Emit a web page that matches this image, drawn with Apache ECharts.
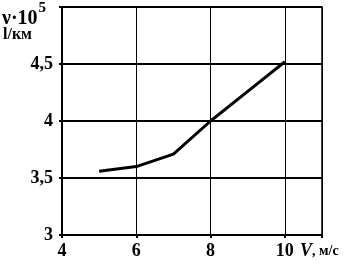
<!DOCTYPE html>
<html><head><meta charset="utf-8">
<script src="https://cdn.jsdelivr.net/npm/echarts@6/dist/echarts.min.js"></script>
<style>html,body{margin:0;padding:0;background:#fff}#c{width:344px;height:266px}</style>
</head><body><div id="c"></div>
<script>
const speedV = [5, 6, 7, 8, 9, 10];
const nuValues = [3.56, 3.60, 3.71, 4.00, 4.26, 4.52];
const xTicks = [4, 6, 8, 10];
const yTicks = [3, 3.5, 4, 4.5];

const chart = echarts.init(document.getElementById('c'), null, {renderer: 'canvas'});
const font = '"Liberation Serif", "DejaVu Serif", serif';
chart.setOption({
  animation: false,
  backgroundColor: '#fff',
  grid: {left: 62, right: 22, top: 7, bottom: 31, show: true, borderColor: '#000', borderWidth: 1.5},
  xAxis: {
    type: 'value', min: 4, max: 11, interval: 2,
    axisLine: {lineStyle: {color: '#000', width: 2}},
    axisTick: {show: true, length: 3, lineStyle: {color: '#000', width: 2}},
    splitLine: {show: true, lineStyle: {color: '#000', width: 1}},
    axisLabel: {color: '#000', fontFamily: font, fontSize: 18, fontWeight: 'bold', margin: 7,
      formatter: v => xTicks.includes(v) ? String(v) : ''}
  },
  yAxis: {
    type: 'value', min: 3, max: 5, interval: 0.5,
    axisLine: {show: true, lineStyle: {color: '#000', width: 2}},
    axisTick: {show: true, length: 3, lineStyle: {color: '#000', width: 2}},
    splitLine: {show: true, lineStyle: {color: '#000', width: 2}},
    axisLabel: {color: '#000', fontFamily: font, fontSize: 18, fontWeight: 'bold', margin: 9,
      formatter: v => yTicks.includes(v) ? String(v).replace('.', ',') : ''}
  },
  series: [{
    type: 'line', data: speedV.map((x, i) => [x, nuValues[i]]),
    showSymbol: false, lineStyle: {color: '#000', width: 3}
  }],
  graphic: [
    {type: 'text', left: 2, top: 1, style: {
      text: '{a|ν·10}{s|5}', fill: '#000',
      rich: {a: {fontFamily: font, fontSize: 20, fontWeight: 'bold', fill: '#000', padding: [8, 0, 0, 0]},
             s: {fontFamily: font, fontSize: 15, fontWeight: 'bold', fill: '#000', verticalAlign: 'top', padding: [0, 0, 8, 1]}}
    }},
    {type: 'text', left: 3, top: 27, style: {text: 'l/км', fill: '#000', fontFamily: font, fontSize: 16, fontWeight: 'bold'}},
    {type: 'text', left: 300, top: 242, style: {
      text: '{v|V}{r|, м/с}', fill: '#000',
      rich: {v: {fontFamily: font, fontSize: 18, fontStyle: 'italic', fontWeight: 'bold', fill: '#000'},
             r: {fontFamily: font, fontSize: 14, fontWeight: 'bold', fill: '#000'}}
    }}
  ]
});
</script></body></html>
